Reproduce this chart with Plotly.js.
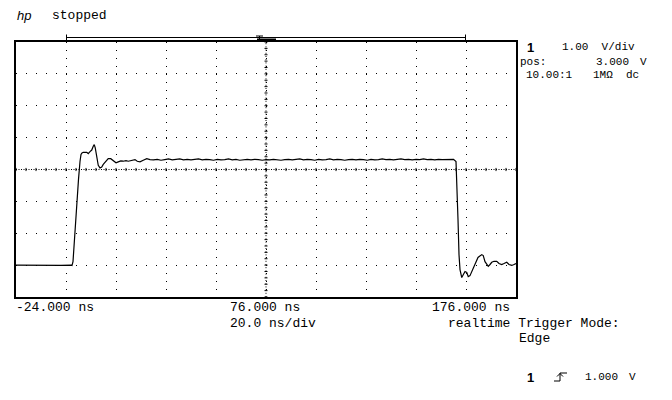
<!DOCTYPE html>
<html><head><meta charset="utf-8">
<script src="https://cdn.plot.ly/plotly-3.0.1.min.js"></script>
<style>html,body{margin:0;padding:0;background:#fff}</style>
</head><body><div id="chart" style="width:672px;height:400px"></div>
<script>
// ---- data (time in ns, channel 1 in volts) ----
const T_NS = [
  -24, -18, -12, -6, -2.0, -1.6, -1.2, -0.8, -0.2, 0.4, 1.0, 1.6, 2.0, 2.4,
  2.9, 4.3, 4.9, 5.6, 6.3, 6.9, 7.3, 7.7, 8.3, 8.9, 9.6, 10.3, 10.9, 12.0, 12.9,
  13.9, 14.9, 16.0, 16.9, 17.9, 18.9, 20.0, 20.9, 22.3, 23.6, 24.5, 25.6, 26.9, 28.3, 29.6,
  31.0, 32.5, 34.0, 35.5, 37.0, 38.5, 40.0, 41.5, 43.0, 44.5, 46.0, 47.5, 49.0, 50.5,
  52.0, 53.5, 55.0, 56.5, 58.0, 59.5, 61.0, 62.5, 64.0, 65.5, 67.0, 68.5, 70.0, 71.5,
  73.0, 74.5, 76.0, 77.5, 79.0, 80.5, 82.0, 83.5, 85.0, 86.5, 88.0, 89.5, 91.0, 92.5,
  94.0, 95.5, 97.0, 98.5, 100.0, 101.5, 103.0, 104.5, 106.0, 107.5, 109.0, 110.5, 112.0,
  113.5, 115.0, 116.5, 118.0, 119.5, 121.0, 122.5, 124.0, 125.5, 127.0, 128.5, 130.0,
  131.5, 133.0, 134.5, 136.0, 137.5, 139.0, 140.5, 142.0, 143.5, 145.0, 146.5, 148.0,
  149.5, 151.0,
  152.0, 152.4, 152.8, 153.2, 153.6, 154.3, 154.8, 155.6, 156.3, 156.9, 157.6, 158.4,
  159.6, 160.8, 162.3, 162.9, 163.6, 164.9, 165.6, 166.3, 167.2, 168.3, 169.2, 170.3,
  171.2, 172.3, 173.2, 174.3, 175.2, 176.0
];
const VOLTS = [
  0.00, -0.01, 0.00, -0.01, 0.00, -0.01, 0.11, 0.65, 1.37, 2.06, 2.69, 3.25, 3.47, 3.52,
  3.54, 3.54, 3.50, 3.56, 3.61, 3.73, 3.78, 3.68, 3.37, 3.13, 3.05, 3.08, 3.16, 3.26, 3.34,
  3.34, 3.29, 3.21, 3.24, 3.27, 3.26, 3.28, 3.26, 3.29, 3.31, 3.26, 3.24, 3.29, 3.34, 3.31,
  3.30, 3.32, 3.29, 3.31, 3.33, 3.30, 3.31, 3.33, 3.30, 3.32, 3.30, 3.31, 3.33, 3.30,
  3.32, 3.31, 3.29, 3.32, 3.30, 3.31, 3.33, 3.30, 3.32, 3.29, 3.31, 3.32, 3.30, 3.32,
  3.31, 3.29, 3.31, 3.30, 3.32, 3.31, 3.29, 3.31, 3.32, 3.30, 3.31, 3.33, 3.30, 3.32,
  3.31, 3.29, 3.32, 3.30, 3.31, 3.33, 3.30, 3.32, 3.31, 3.29, 3.31, 3.32, 3.30,
  3.32, 3.31, 3.29, 3.32, 3.30, 3.31, 3.33, 3.31, 3.32, 3.30, 3.32, 3.33,
  3.31, 3.32, 3.30, 3.32, 3.31, 3.33, 3.31, 3.32, 3.30, 3.32, 3.31, 3.32,
  3.31, 3.32,
  3.25, 2.53, 1.43, 0.33, -0.14, -0.39, -0.33, -0.20, -0.23, -0.36, -0.33, -0.20,
  0.02, 0.24, 0.33, 0.30, 0.11, -0.04, 0.02, 0.09, 0.12, 0.12, 0.05, 0.02,
  0.05, 0.09, 0.02, -0.01, 0.02, 0.05
];
const X_TICK_VALUES = [-24, 76, 176];
const X_TICK_LABELS = ['-24.000 ns', '76.000 ns', '176.000 ns'];
const TIME_PER_DIV = '20.0 ns/div';
const CH_SCALE = '1.00  V/div';
const CH_POS = '3.000';
const CH_PROBE = '10.00:1';
const CH_COUPLING = '1MΩ  dc';
const TRIG_LEVEL = '1.000';

// ---- geometry helpers (pixel -> paper) ----
const L = 16, R = 516, TOP = 42, BOT = 297;
const px = x => (x - L) / (R - L);
const py = y => (BOT - y) / (BOT - TOP);

const MONO = 'Liberation Mono';
function ann(text, x, y, size, family) {
  return {text: text, x: px(x), y: py(y), xref: 'paper', yref: 'paper',
    xanchor: 'left', yanchor: 'middle', showarrow: false, borderpad: 0,
    font: {family: family || MONO, size: size || 13, color: '#000'}};
}

// center graticule tick marks
let hTicks = '';
for (let t = -24; t <= 176.001; t += 4) hTicks += `M${t},2.95L${t},3.05`;
let vTicks = '';
for (let v = -1; v <= 7.001; v += 0.2) vTicks += `M75.4,${v.toFixed(2)}L76.6,${v.toFixed(2)}`;

const shapes = [
  {type: 'line', xref: 'x', yref: 'y', x0: -24, x1: 176, y0: 3, y1: 3, layer: 'below',
   line: {color: '#000', width: 1, dash: '1px,1.5px'}},
  {type: 'line', xref: 'x', yref: 'y', x0: 76, x1: 76, y0: -1, y1: 7, layer: 'below',
   line: {color: '#000', width: 1, dash: '1px,2.2px'}},
  {type: 'path', xref: 'x', yref: 'y', path: hTicks, layer: 'below', line: {color: '#000', width: 1}},
  {type: 'path', xref: 'x', yref: 'y', path: vTicks, layer: 'below', line: {color: '#000', width: 1}},
  // horizontal span bracket above the grid
  {type: 'line', xref: 'paper', yref: 'paper', x0: px(66), x1: px(466), y0: py(37.5), y1: py(37.5), line: {color: '#000', width: 1}},
  {type: 'line', xref: 'paper', yref: 'paper', x0: px(66.5), x1: px(66.5), y0: py(34.5), y1: py(40), line: {color: '#000', width: 1}},
  {type: 'line', xref: 'paper', yref: 'paper', x0: px(465.5), x1: px(465.5), y0: py(34.5), y1: py(40), line: {color: '#000', width: 1}},
  // trigger position marker
  {type: 'rect', xref: 'paper', yref: 'paper', x0: px(257), x1: px(276), y0: py(38.5), y1: py(41), fillcolor: '#000', line: {width: 0}},
  {type: 'line', xref: 'paper', yref: 'paper', x0: px(256), x1: px(263), y0: py(36), y1: py(36), line: {color: '#000', width: 1}},
  {type: 'line', xref: 'paper', yref: 'paper', x0: px(259.5), x1: px(259.5), y0: py(36), y1: py(39), line: {color: '#000', width: 1}},
  // rising edge trigger symbol
  {type: 'path', xref: 'paper', yref: 'paper',
   path: `M${px(554)},${py(381)}L${px(560)},${py(381)}L${px(560)},${py(373)}L${px(567)},${py(373)}M${px(557)},${py(376.5)}L${px(560)},${py(373.5)}L${px(563)},${py(376.5)}`,
   line: {color: '#000', width: 1}}
];

const annotations = [
  ann('<i>hp</i>', 16, 15.5, 13, 'Liberation Sans'),
  ann('stopped', 51, 15.5, 13),
  ann(X_TICK_LABELS[0], 15, 307.5, 13),
  ann(X_TICK_LABELS[1], 229, 307.5, 13),
  ann(X_TICK_LABELS[2], 431, 307.5, 13),
  ann(TIME_PER_DIV, 229, 323, 13),
  ann('realtime Trigger Mode:', 447, 323.5, 13),
  ann('Edge', 518, 338.5, 13),
  ann('<b>1</b>', 526, 47, 13, 'Liberation Sans'),
  ann(CH_SCALE, 561, 47, 11),
  ann('pos:', 519, 62, 11),
  ann(CH_POS, 595, 62, 11),
  ann('V', 639, 62, 11),
  ann(CH_PROBE, 525, 75, 11),
  ann(CH_COUPLING, 592, 75, 11),
  ann('<b>1</b>', 526, 377, 13, 'Liberation Sans'),
  ann(TRIG_LEVEL, 584, 377, 11),
  ann('V', 628, 377, 11)
];

const trace = {x: T_NS, y: VOLTS, type: 'scatter', mode: 'lines',
  line: {color: '#000', width: 1.2, shape: 'linear'}, hoverinfo: 'skip'};

const axisCommon = {showline: true, mirror: true, linecolor: '#000', linewidth: 2,
  showgrid: true, gridcolor: '#000', gridwidth: 1, zeroline: false,
  showticklabels: false, ticks: '', fixedrange: true};

const layout = {
  width: 672, height: 400, autosize: false,
  margin: {l: L, r: 672 - R, t: TOP, b: 400 - BOT, pad: 0},
  paper_bgcolor: '#fff', plot_bgcolor: '#fff', showlegend: false,
  xaxis: Object.assign({}, axisCommon, {range: [-24, 176], tick0: -24, dtick: 20, griddash: '1px,6.97px'}),
  yaxis: Object.assign({}, axisCommon, {range: [-1, 7], tick0: -1, dtick: 1, griddash: '1px,9px'}),
  shapes: shapes, annotations: annotations
};

Plotly.newPlot('chart', [trace], layout, {staticPlot: true, displayModeBar: false});
</script></body></html>
